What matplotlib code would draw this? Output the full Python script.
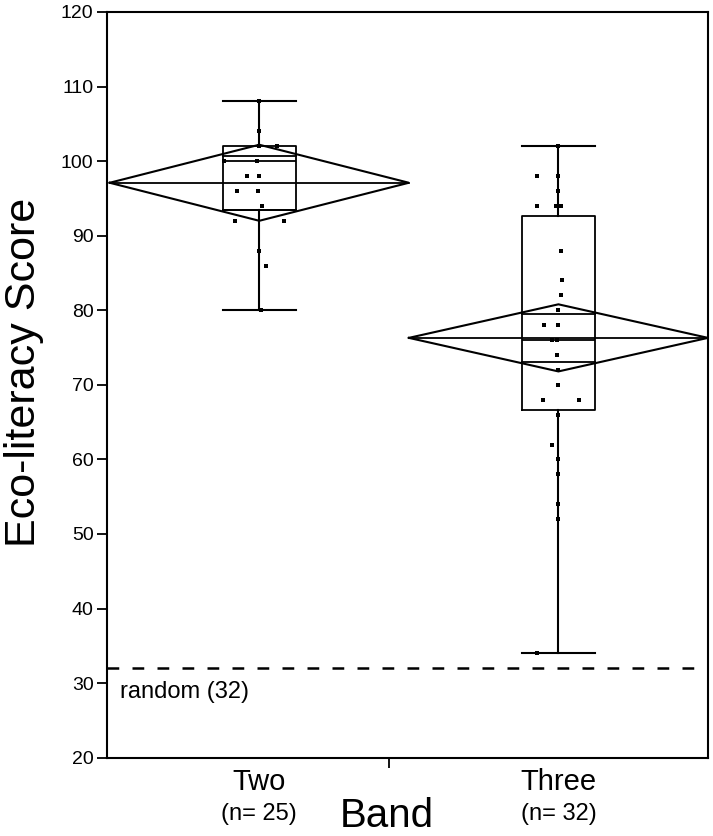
import numpy as np
import matplotlib
matplotlib.use('Agg')
import matplotlib.pyplot as plt

plt.rcParams['font.family'] = ['Liberation Sans', 'DejaVu Sans']

# valores
bands = ['Two', 'Three']
n_counts = [25, 32]
positions = [1, 2]

q1 = [93.5, 66.6]
medians = [100.0, 76.0]
q3 = [102.0, 92.7]
whislo = [80, 34]
whishi = [108, 102]

means = [97.1, 76.3]
ci_lo = [92.0, 71.8]
ci_hi = [102.2, 80.8]

scores_two = [108, 104, 102, 102, 100, 100, 98, 98, 96, 96, 94, 92, 92, 88, 86, 80]
jitter_two = [0, 0, 0, 0.059, -0.117, -0.008, -0.041, 0, -0.074, -0.004, 0.009,
              -0.080, 0.084, 0, 0.023, 0.006]
scores_three = [102, 98, 98, 96, 94, 94, 94, 88, 84, 82, 80, 78, 78, 76, 76, 74, 72,
                70, 68, 68, 66, 62, 60, 58, 54, 52, 34]
jitter_three = [0, -0.070, 0, 0, -0.070, -0.008, 0.009, 0.009, 0.013, 0.009, 0,
                -0.047, 0, -0.021, -0.004, -0.004, 0, 0, -0.053, 0.070, 0, -0.021,
                0, 0, 0, 0, -0.070]

chance = 32

W, H = 713, 836
fig = plt.figure(figsize=(W / 100, H / 100), dpi=100)
ax = fig.add_axes([106.7 / W, (H - 757.7) / H, (708 - 106.7) / W, (757.7 - 12) / H])

box_w = 0.244
stats = []
for i in range(2):
    stats.append(dict(med=medians[i], q1=q1[i], q3=q3[i],
                      whislo=whislo[i], whishi=whishi[i], fliers=[]))
lw = 1.3
ax.bxp(stats, positions=positions, widths=box_w, capwidths=box_w,
       showfliers=False, manage_ticks=False,
       boxprops=dict(color='black', lw=lw),
       whiskerprops=dict(color='black', lw=1.5),
       capprops=dict(color='black', lw=1.5),
       medianprops=dict(color='black', lw=lw))

# diamantes de medias con marcas de solapamiento
for i, c in enumerate(positions):
    m = means[i]
    xs = [c - 0.5, c, c + 0.5, c, c - 0.5]
    ys = [m, ci_hi[i], m, ci_lo[i], m]
    ax.plot(xs, ys, color='black', lw=1.5, solid_joinstyle='miter')
    ax.plot([c - 0.5, c + 0.5], [m, m], color='black', lw=1.3)
    half = (ci_hi[i] - ci_lo[i]) / 2 / np.sqrt(2)
    for yy in (m - half, m + half):
        ax.plot([c - box_w / 2, c + box_w / 2], [yy, yy], color='black', lw=1.3)

# puntos
ax.plot(positions[0] + np.array(jitter_two), scores_two, 's', color='black',
        ms=2.5, mew=0, zorder=5)
ax.plot(positions[1] + np.array(jitter_three), scores_three, 's', color='black',
        ms=2.5, mew=0, zorder=5)

# linea de azar
ax.axhline(chance, color='black', lw=1.8, linestyle=(0, (4.7, 5.3)))
ax.annotate('random (32)', xy=(0, chance), xycoords=('axes fraction', 'data'),
            xytext=(9.5, -21.4), textcoords='offset points', va='baseline',
            ha='left', fontsize=17)

ax.set_xlim(0.49, 2.5)
ax.set_ylim(20, 120)
ax.set_yticks(np.arange(20, 121, 10))
ax.tick_params(axis='y', length=7, width=1.3, pad=2.5, labelsize=14)
ax.set_xticks([1.433])
ax.set_xticklabels([''])
ax.tick_params(axis='x', length=7, width=1.3)
for s in ax.spines.values():
    s.set_linewidth(1.5)

for i, c in enumerate(positions):
    ax.annotate(bands[i], xy=(c, 0), xycoords=('data', 'axes fraction'),
                xytext=(0, -23.3), textcoords='offset points', ha='center',
                va='baseline', fontsize=21, annotation_clip=False)
    ax.annotate('(n= %d)' % n_counts[i], xy=(c, 0), xycoords=('data', 'axes fraction'),
                xytext=(0, -44.9), textcoords='offset points', ha='center',
                va='baseline', fontsize=17, annotation_clip=False)

fig.text(387 / W, (H - 827) / H, 'Band', ha='center', va='baseline', fontsize=29)
fig.text(35 / W, (H - 372) / H, 'Eco-literacy Score', rotation=90,
         rotation_mode='anchor', ha='center', va='baseline', fontsize=31)

plt.savefig('out.png', dpi=100)
